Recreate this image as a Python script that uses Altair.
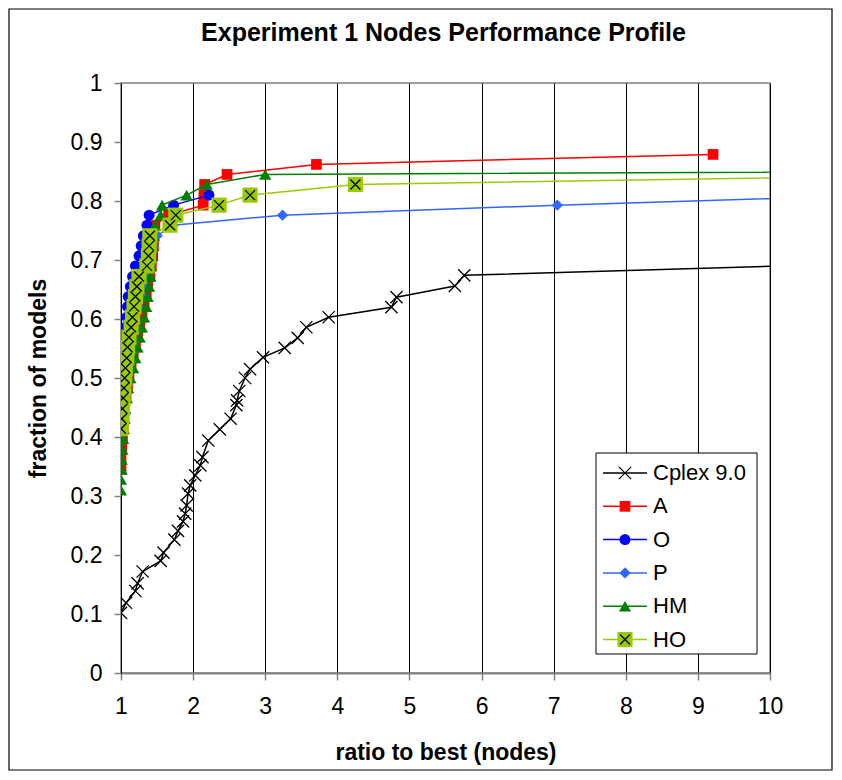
import altair as alt
import pandas as pd

FONT = "Liberation Sans"
W, H = 649, 590

# ---- data ----
cplex_x = [1.00, 1.07, 1.20, 1.23, 1.30, 1.55, 1.59, 1.74, 1.79, 1.86, 1.89, 1.91, 1.93, 1.96, 2.03,
           2.10, 2.13, 2.21, 2.37, 2.52, 2.60, 2.61, 2.64, 2.72, 2.79, 2.97, 3.27, 3.45, 3.57, 3.88,
           4.75, 4.82, 5.63, 5.76, 10.2]
cplex_y = [0.102, 0.119, 0.139, 0.152, 0.172, 0.190, 0.204, 0.226, 0.241, 0.257, 0.270, 0.284, 0.304, 0.318, 0.335,
           0.352, 0.366, 0.394, 0.413, 0.431, 0.454, 0.462, 0.478, 0.500, 0.515, 0.535, 0.551, 0.568, 0.586, 0.603,
           0.620, 0.637, 0.656, 0.674, 0.690]

a_x = [1.00, 1.00, 1.01, 1.02, 1.03, 1.04, 1.05, 1.07, 1.09, 1.11, 1.14, 1.17, 1.20, 1.23, 1.26,
       1.29, 1.32, 1.35, 1.37, 1.40, 1.42, 1.44, 1.45, 1.46, 1.47, 1.66, 2.14, 2.15, 2.16, 2.47, 3.71, 9.21]
a_y = [0.345, 0.362, 0.379, 0.397, 0.414, 0.431, 0.448, 0.466, 0.483, 0.500, 0.517, 0.534, 0.552, 0.569, 0.586,
       0.603, 0.621, 0.638, 0.655, 0.672, 0.690, 0.707, 0.724, 0.741, 0.759, 0.776, 0.793, 0.810, 0.828, 0.845,
       0.862, 0.879]

o_x = [1.00, 1.00, 1.01, 1.01, 1.02, 1.02, 1.03, 1.04, 1.04, 1.05, 1.055, 1.06, 1.08, 1.09, 1.10,
       1.13, 1.16, 1.20, 1.25, 1.28, 1.31, 1.36, 1.39, 1.73, 2.22]
o_y = [0.397, 0.414, 0.431, 0.448, 0.466, 0.483, 0.500, 0.517, 0.534, 0.552, 0.569, 0.586, 0.603, 0.621, 0.638,
       0.655, 0.672, 0.690, 0.707, 0.724, 0.741, 0.759, 0.776, 0.793, 0.810]

p_x = [1.00, 1.01, 1.02, 1.03, 1.04, 1.05, 1.06, 1.07, 1.09, 1.11, 1.13, 1.16, 1.19, 1.24, 1.30,
       1.35, 1.38, 1.40, 1.42, 1.45, 1.50, 1.72, 3.24, 7.05, 11.6]
p_y = [0.397, 0.414, 0.431, 0.448, 0.466, 0.483, 0.500, 0.517, 0.534, 0.552, 0.569, 0.586, 0.603, 0.621, 0.638,
       0.655, 0.672, 0.690, 0.707, 0.724, 0.741, 0.759, 0.776, 0.793, 0.810]

hm_x = [1.00, 1.00, 1.01, 1.01, 1.02, 1.03, 1.04, 1.05, 1.06, 1.08, 1.10, 1.13, 1.17, 1.20, 1.23,
        1.26, 1.29, 1.32, 1.35, 1.37, 1.39, 1.41, 1.42, 1.43, 1.44, 1.45, 1.47, 1.55, 1.57, 1.91,
        2.19, 3.00, 33.0]
hm_y = [0.310, 0.328, 0.345, 0.362, 0.379, 0.397, 0.414, 0.431, 0.448, 0.466, 0.483, 0.500, 0.517, 0.534, 0.552,
        0.569, 0.586, 0.603, 0.621, 0.638, 0.655, 0.672, 0.690, 0.707, 0.724, 0.741, 0.759, 0.776, 0.793, 0.810,
        0.828, 0.845, 0.862]

ho_x = [1.00, 1.01, 1.02, 1.03, 1.04, 1.05, 1.06, 1.08, 1.09, 1.11, 1.14, 1.16, 1.18, 1.20, 1.22,
        1.25, 1.36, 1.38, 1.39, 1.40, 1.68, 1.76, 2.36, 2.79, 4.25, 13.1]
ho_y = [0.414, 0.431, 0.448, 0.466, 0.483, 0.500, 0.517, 0.534, 0.552, 0.569, 0.586, 0.603, 0.621, 0.638, 0.655,
        0.672, 0.690, 0.707, 0.724, 0.741, 0.759, 0.776, 0.793, 0.810, 0.828, 0.845]

x_ticks = [1, 2, 3, 4, 5, 6, 7, 8, 9, 10]
y_ticks = [0, 0.1, 0.2, 0.3, 0.4, 0.5, 0.6, 0.7, 0.8, 0.9, 1]

title_text = "Experiment 1 Nodes Performance Profile"
names = ["Cplex 9.0", "A", "O", "P", "HM", "HO"]
line_colors = ["#000000", "#FF0000", "#0000FF", "#3366FF", "#008000", "#99CC00"]

XPATH = "M-1,-1L1,1M-1,1L1,-1"

x_axis = alt.Axis(values=x_ticks, grid=True, gridColor="#000000", gridWidth=1,
                  tickColor="#808080", tickSize=7, tickWidth=1.5,
                  domainColor="#808080", domainWidth=2,
                  labelFont=FONT, labelFontSize=23, labelColor="#000000", labelPadding=15,
                  labelFlush=False, labelOverlap=False,
                  title="ratio to best (nodes)", titleFont=FONT, titleFontSize=23,
                  titleFontWeight="bold", titleColor="#000000",
                  titleX=W / 2, titleY=79, titleBaseline="middle", titleAlign="center")
y_axis = alt.Axis(values=y_ticks, format="~g", grid=False,
                  tickColor="#808080", tickSize=7, tickWidth=1.5,
                  domainColor="#000000", domainWidth=1,
                  labelFont=FONT, labelFontSize=23, labelColor="#000000", labelPadding=12,
                  labelFlush=False, labelOverlap=False,
                  title="fraction of models", titleFont=FONT, titleFontSize=23,
                  titleFontWeight="bold", titleColor="#000000",
                  titleX=-83, titleY=H / 2, titleAngle=270, titleBaseline="middle", titleAlign="center")

x_enc = alt.X("x:Q", scale=alt.Scale(domain=[1, 10], nice=False, zero=False), axis=x_axis)
y_enc = alt.Y("y:Q", scale=alt.Scale(domain=[0, 1], nice=False, zero=False), axis=y_axis)


def frame(xs, ys):
    return pd.DataFrame({"x": xs, "y": ys, "i": list(range(len(xs)))})


def series(xs, ys, color, shape, size, filled=True, mcolor=None, sw=1.3):
    df = frame(xs, ys)
    base = alt.Chart(df)
    line = base.mark_line(color=color, strokeWidth=1.5, clip=True).encode(
        x=x_enc, y=y_enc, order=alt.Order("i:Q"))
    pts = base.mark_point(shape=shape, size=size, filled=filled, color=mcolor or color,
                          opacity=1, strokeWidth=sw, clip=True).encode(x=x_enc, y=y_enc)
    return [line, pts]


layers = []
layers += series(cplex_x, cplex_y, "#000000", XPATH, 150, filled=False)
layers += series(a_x, a_y, "#FF0000", "square", 115)
layers += series(o_x, o_y, "#0000FF", "circle", 121)
layers += series(p_x, p_y, "#3366FF", "diamond", 130)
layers += series(hm_x, hm_y, "#008000", "triangle-up", 150)
layers += series(ho_x, ho_y, "#99CC00", "square", 230)
layers.append(alt.Chart(frame(ho_x, ho_y)).mark_point(
    shape=XPATH, size=100, filled=False, color="#000000", opacity=1, strokeWidth=1.3, clip=True
).encode(x=x_enc, y=y_enc))

# ---- legend (decoration) ----
LX0, LX1, LY0, LY1 = 475, 636, 370, 571
layers.append(alt.Chart(pd.DataFrame({"a": [0]})).mark_rect(
    fill="#FFFFFF", stroke="#000000", strokeWidth=1).encode(
    x=alt.value(LX0), x2=alt.value(LX1), y=alt.value(LY0), y2=alt.value(LY1)))

leg_shapes = [XPATH, "square", "circle", "diamond", "triangle-up", "square"]
leg_sizes = [150, 115, 121, 130, 150, 230]
for k, nm in enumerate(names):
    yy = 390 + 33.3 * k
    d = pd.DataFrame({"name": [nm]})
    layers.append(alt.Chart(d).mark_rule(color=line_colors[k], strokeWidth=1.5).encode(
        x=alt.value(482), x2=alt.value(526), y=alt.value(yy)))
    layers.append(alt.Chart(d).mark_point(
        shape=leg_shapes[k], size=leg_sizes[k], filled=(k != 0), color=line_colors[k],
        opacity=1, strokeWidth=1.3).encode(x=alt.value(504), y=alt.value(yy)))
    if k == 5:
        layers.append(alt.Chart(d).mark_point(
            shape=XPATH, size=100, filled=False, color="#000000", opacity=1, strokeWidth=1.3
        ).encode(x=alt.value(504), y=alt.value(yy)))
    layers.append(alt.Chart(d).mark_text(
        align="left", baseline="middle", font=FONT, fontSize=22, color="#000000").encode(
        x=alt.value(532), y=alt.value(yy), text="name:N"))

# chart title as a text mark
layers.append(alt.Chart(pd.DataFrame({"t": [title_text]})).mark_text(
    align="center", baseline="alphabetic", font=FONT, fontSize=25, fontWeight="bold",
    color="#000000", clip=False).encode(x=alt.value(W / 2 - 2), y=alt.value(-42), text="t:N"))

# outer chart border (decoration)
layers.append(alt.Chart(pd.DataFrame({"a": [0]})).mark_rect(
    fillOpacity=0, stroke="#000000", strokeWidth=1.2, clip=False).encode(
    x=alt.value(-112), x2=alt.value(W + 62), y=alt.value(-74), y2=alt.value(H + 97)))

chart = alt.layer(*layers).properties(
    width=W, height=H,
    padding={"left": 113, "top": 75, "right": 64, "bottom": 99},
    autosize=alt.AutoSizeParams(type="none"),
).configure_view(stroke="#808080", strokeWidth=1.5)

chart.save("out.html", embed_options={"renderer": "svg", "actions": False})
